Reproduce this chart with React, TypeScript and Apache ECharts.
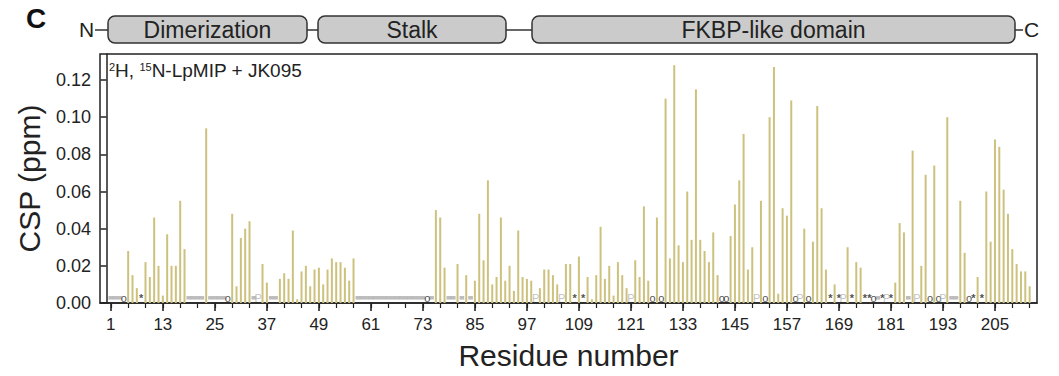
import React, { useEffect, useRef } from "react";
import * as echarts from "echarts";

// ---- data ----
const barResidues = [
  5, 6, 7, 9, 10, 11, 12, 13, 14, 15, 16, 17, 18, 23, 29, 30, 31, 32, 33, 36, 37,
  40, 41, 42, 43, 44, 45, 46, 47, 48, 49, 50, 51, 52, 53, 54, 55, 56, 57,
  76, 77, 78, 81, 83, 85, 86, 87, 88, 89, 90, 91, 92, 93, 94, 95, 96, 97, 98,
  100, 101, 102, 103, 104, 106, 107, 109, 111, 112, 113, 114, 115, 116, 117, 118, 119, 120,
  122, 123, 124, 125, 127, 129, 130, 131, 132, 133, 134, 135, 136, 137, 138, 139, 140, 141,
  144, 145, 146, 147, 148, 149, 151, 153, 154, 155, 156, 157, 158,
  161, 163, 164, 165, 166, 168, 171, 173, 174, 182, 183, 184, 186, 188, 189, 191, 194,
  197, 198, 201, 203, 204, 205, 206, 207, 208, 209, 210, 211, 212, 213,
];
const cspValues = [
  0.028, 0.015, 0.008, 0.022, 0.014, 0.046, 0.020, 0.004, 0.037, 0.020, 0.020, 0.055, 0.029, 0.094, 0.048, 0.009, 0.035, 0.040, 0.044, 0.021, 0.011,
  0.013, 0.016, 0.013, 0.039, 0.002, 0.017, 0.020, 0.009, 0.018, 0.019, 0.010, 0.018, 0.024, 0.022, 0.022, 0.019, 0.012, 0.024,
  0.050, 0.046, 0.019, 0.021, 0.015, 0.012, 0.048, 0.023, 0.066, 0.010, 0.014, 0.046, 0.012, 0.020, 0.0065, 0.039, 0.014, 0.013, 0.012,
  0.008, 0.018, 0.018, 0.015, 0.010, 0.021, 0.021, 0.025, 0.014, 0.002, 0.015, 0.041, 0.013, 0.020, 0.004, 0.022, 0.015, 0.008,
  0.023, 0.014, 0.052, 0.012, 0.046, 0.110, 0.024, 0.128, 0.031, 0.022, 0.060, 0.034, 0.115, 0.034, 0.028, 0.022, 0.038, 0.015,
  0.036, 0.053, 0.066, 0.091, 0.018, 0.030, 0.055, 0.100, 0.127, 0.005, 0.051, 0.047, 0.109,
  0.040, 0.033, 0.106, 0.051, 0.018, 0.010, 0.030, 0.022, 0.019, 0.011, 0.043, 0.038, 0.082, 0.020, 0.069, 0.074, 0.100,
  0.055, 0.027, 0.014, 0.060, 0.033, 0.088, 0.084, 0.061, 0.048, 0.029, 0.021, 0.017, 0.017, 0.009,
];
const unassignedResidues = [
  1, 2, 3, 19, 20, 21, 22, 24, 25, 26, 27, 34, 38, 39,
  58, 59, 60, 61, 62, 63, 64, 65, 66, 67, 68, 69, 70, 71, 72, 73,
  75, 79, 80, 82, 84, 178, 185, 195, 196,
];
const circleResidues = [4, 28, 74, 126, 128, 142, 143, 152, 159, 162, 177, 190, 192, 199];
const starResidues = [8, 108, 110, 167, 169, 172, 175, 176, 179, 181, 200, 202];
const prolineResidues = [35, 99, 105, 121, 150, 160, 170, 180, 187, 193];
const majorTicks = [1, 13, 25, 37, 49, 61, 73, 85, 97, 109, 121, 133, 145, 157, 169, 181, 193, 205];
const minorTicks = Array.from({ length: 54 }, (_, i) => 1 + i * 4);
const yTicks = [0, 0.02, 0.04, 0.06, 0.08, 0.1, 0.12];
const domains = ["Dimerization", "Stalk", "FKBP-like domain"];

const FONT = "Liberation Sans, Arial, sans-serif";
const MARK_Y = 0.0028;

export default function App() {
  const ref = useRef<HTMLDivElement>(null);
  useEffect(() => {
    if (!ref.current) return;
    const chart = echarts.init(ref.current, undefined, { renderer: "svg" });
    const boxes = [
      { x: 108, w: 199, label: domains[0] },
      { x: 318, w: 188, label: domains[1] },
      { x: 532, w: 483, label: domains[2] },
    ];
    const graphic: any[] = [
      { type: "text", x: 26, y: 4, style: { text: "C", font: `bold 28px ${FONT}`, fill: "#111" } },
      { type: "text", x: 79, y: 19, style: { text: "N", font: `21px ${FONT}`, fill: "#222" } },
      { type: "text", x: 1024, y: 19, style: { text: "C", font: `21px ${FONT}`, fill: "#222" } },
      { type: "line", shape: { x1: 95, y1: 30, x2: 108, y2: 30 }, style: { stroke: "#333", lineWidth: 1.5 } },
      { type: "line", shape: { x1: 307, y1: 30, x2: 318, y2: 30 }, style: { stroke: "#333", lineWidth: 1.5 } },
      { type: "line", shape: { x1: 506, y1: 30, x2: 532, y2: 30 }, style: { stroke: "#333", lineWidth: 1.5 } },
      { type: "line", shape: { x1: 1015, y1: 30, x2: 1023, y2: 30 }, style: { stroke: "#333", lineWidth: 1.5 } },
      {
        type: "text",
        x: 109,
        y: 61,
        style: {
          text: "{s|2}H, {s|15}N-LpMIP + JK095",
          font: `19px ${FONT}`,
          fill: "#222",
          rich: {
            s: { fontSize: 11, fontFamily: FONT, verticalAlign: "top", padding: [0, 0, 8, 0], fill: "#222" },
          },
        },
      },
    ];
    boxes.forEach((b) => {
      graphic.push({
        type: "rect",
        shape: { x: b.x, y: 16, width: b.w, height: 27, r: 7 },
        style: { fill: "#cbcbcb", stroke: "#333", lineWidth: 1.5 },
      });
      graphic.push({
        type: "text",
        x: b.x + b.w / 2,
        y: 30,
        style: { text: b.label, font: `23px ${FONT}`, fill: "#222", textAlign: "center", textVerticalAlign: "middle" },
      });
    });

    const markerSeries = (res: number[], text: string, color: string, size: number, weight: string) => ({
      type: "scatter",
      data: res.map((r) => [r, MARK_Y]),
      symbolSize: 1,
      itemStyle: { color: "rgba(0,0,0,0)" },
      label: {
        show: true,
        position: "inside",
        formatter: text,
        color,
        fontSize: size,
        fontWeight: weight,
        fontFamily: FONT,
        textBorderWidth: 0,
        textBorderColor: "transparent",
      },
      z: 4,
    });

    chart.setOption({
      animation: false,
      textStyle: { fontFamily: FONT },
      graphic,
      grid: { left: 100, right: 22, top: 54, bottom: 73, show: true, borderColor: "#222", borderWidth: 1.5 },
      xAxis: [
        {
          type: "value",
          min: -1.5,
          max: 214.7,
          position: "bottom",
          axisLine: { show: true, lineStyle: { color: "#222", width: 1.5 } },
          axisTick: { show: true, customValues: majorTicks, length: 8, lineStyle: { color: "#222", width: 1.6 } },
          axisLabel: { customValues: majorTicks, fontSize: 17, color: "#222", margin: 13, fontFamily: FONT },
          splitLine: { show: false },
          name: "Residue number",
          nameLocation: "middle",
          nameGap: 37,
          nameTextStyle: { fontSize: 30, color: "#222", fontFamily: FONT },
        },
        {
          type: "value",
          min: -1.5,
          max: 214.7,
          position: "bottom",
          axisLine: { show: false },
          axisTick: { show: true, customValues: minorTicks, length: 5, lineStyle: { color: "#222", width: 1.2 } },
          axisLabel: { show: false },
          splitLine: { show: false },
        },
      ],
      yAxis: {
        type: "value",
        min: 0,
        max: 0.134,
        axisLine: { show: true, lineStyle: { color: "#222", width: 1.5 } },
        axisTick: { show: true, customValues: yTicks, length: 6, lineStyle: { color: "#222", width: 1.5 } },
        axisLabel: {
          customValues: yTicks,
          fontSize: 18,
          color: "#222",
          margin: 9,
          fontFamily: FONT,
          formatter: (v: number) => v.toFixed(2),
        },
        splitLine: { show: false },
        name: "CSP (ppm)",
        nameLocation: "middle",
        nameGap: 56,
        nameTextStyle: { fontSize: 30, color: "#222", fontFamily: FONT },
      },
      series: [
        {
          type: "bar",
          data: barResidues.map((r, i) => [r, cspValues[i]]),
          barWidth: 2,
          itemStyle: { color: "#cdc17e" },
          z: 3,
        },
        {
          type: "scatter",
          data: unassignedResidues.map((r) => [r, MARK_Y]),
          symbol: "rect",
          symbolSize: [4.7, 3.5],
          itemStyle: { color: "#ababab" },
          z: 2,
        },
        markerSeries(circleResidues, "o", "#222", 11, "normal"),
        markerSeries(starResidues, "*", "#222", 11, "bold"),
        markerSeries(prolineResidues, "P", "#b4b4b4", 11, "normal"),
      ],
    });
    return () => chart.dispose();
  }, []);
  return (
    <div
      ref={ref}
      style={{ position: "fixed", left: 0, top: 0, width: 1059, height: 376, background: "#fff" }}
    />
  );
}
